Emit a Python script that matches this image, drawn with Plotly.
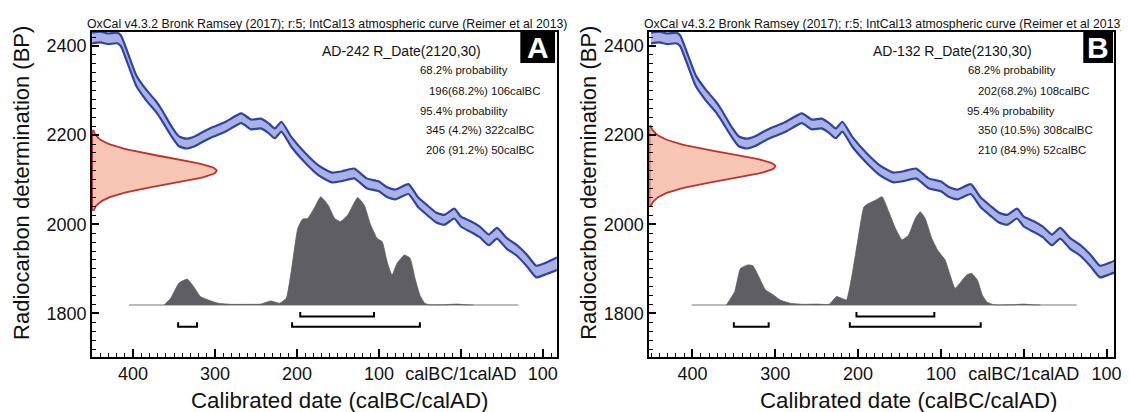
import numpy as np
import plotly.graph_objects as go

# page body has an 8px default margin, so the figure is made 8px smaller
OFF = 8
W, H = 1129 - OFF, 412 - OFF

# ---------------- data ----------------
# IntCal13 calibration curve (calendar year: negative = BC), radiocarbon age BP
curve_year = [-450, -440, -430, -420, -415, -405, -396, -384, -372, -365,
              -353, -344, -335, -325, -315, -304, -287, -268, -256, -244,
              -235, -227, -219, -207, -190, -173, -157, -145, -130, -115,
              -100, -90, -80, -64, -52, -40, -30, -20, -8, 0,
              12, 23, 34, 44, 56, 68, 80, 92, 104, 118]
curve_bp = [2418, 2420, 2416, 2418, 2412, 2365, 2322, 2290, 2264, 2245,
            2208, 2186, 2181, 2186, 2196, 2206, 2219, 2238, 2224, 2226,
            2216, 2204, 2219, 2185, 2149, 2120, 2105, 2108, 2114, 2092,
            2085, 2072, 2067, 2079, 2049, 2030, 2015, 2010, 2024, 2006,
            1995, 1983, 1965, 1980, 1957, 1942, 1920, 1894, 1901, 1912]
curve_err = [12, 12, 12, 12, 12, 12, 12, 12, 12, 12,
             11, 11, 11, 11, 11, 11, 11, 11, 11, 11,
             11, 11, 11, 11, 11, 11, 11, 11, 11, 11,
             11, 11, 11, 11, 11, 11, 11, 11, 11, 11,
             12, 12, 12, 12, 12, 12, 13, 13, 13, 14]

# Sample A
a_name = "AD-242 R_Date(2120,30)"
a_mean, a_sigma = 2120, 30
a_prob_year = [-362, -354, -344, -334, -326, -318, -308, -296, -280, -259,
               -244, -232, -221, -213, -207, -199, -193, -187, -179, -171,
               -162, -154, -147, -138, -126, -118, -110, -102, -96, -90,
               -84, -78, -69, -62, -56, -50, -44, -38, -20, -5, 5, 15]
a_prob = [0, 0.062, 0.202, 0.239, 0.169, 0.078, 0.045, 0.016, 0.006, 0.006,
          0.008, 0.037, 0.016, 0.062, 0.309, 0.708, 0.794, 0.798, 0.893, 1.0,
          0.922, 0.798, 0.770, 0.831, 0.992, 0.922, 0.737, 0.613, 0.584, 0.399,
          0.276, 0.383, 0.461, 0.432, 0.247, 0.091, 0.016, 0.002, 0.002, 0.008, 0.002, 0]
a_calc_range = [-405, 70]
a_range68 = [[-196, -106]]
a_range95 = [[-345, -322], [-206, -50]]
a_texts = ["68.2% probability", "196(68.2%) 106calBC", "95.4% probability",
           "345 (4.2%) 322calBC", "206 (91.2%) 50calBC"]

# Sample B
b_name = "AD-132 R_Date(2130,30)"
b_mean, b_sigma = 2130, 30
b_prob_year = [-359, -349, -342, -333, -327, -319, -312, -302, -294, -282,
               -266, -250, -235, -226, -220, -214, -208, -200, -193, -187,
               -179, -171, -163, -155, -147, -139, -131, -125, -119, -111,
               -104, -95, -89, -83, -77, -69, -63, -56, -50, -44, -36,
               -15, 0, 10, 20]
b_prob = [0, 0.123, 0.337, 0.370, 0.362, 0.247, 0.140, 0.091, 0.045, 0.016,
          0.006, 0.008, 0.006, 0.078, 0.062, 0.045, 0.247, 0.613, 0.905, 0.938,
          0.967, 1.0, 0.860, 0.708, 0.601, 0.646, 0.798, 0.860, 0.798, 0.613,
          0.506, 0.416, 0.276, 0.152, 0.202, 0.276, 0.292, 0.230, 0.091, 0.025, 0.002,
          0.002, 0.008, 0.002, 0]
b_calc_range = [-401, 64]
b_range68 = [[-202, -108]]
b_range95 = [[-350, -308], [-210, -52]]
b_texts = ["68.2% probability", "202(68.2%) 108calBC", "95.4% probability",
           "350 (10.5%) 308calBC", "210 (84.9%) 52calBC"]

x_tickvals = [-400, -300, -200, -100, 0, 100]
x_ticktext = ["400", "300", "200", "100", "calBC/1calAD", "100"]
y_tickvals = [1800, 2000, 2200, 2400]
title_text = "OxCal v4.3.2 Bronk Ramsey (2017); r:5; IntCal13 atmospheric curve (Reimer et al 2013)"

# ---------------- styling / layout constants ----------------
FONT = "Arial, Liberation Sans, sans-serif"
BAND_FILL = "rgba(160,168,226,0.9)"
BAND_LINE = "#2f44a0"
RD_FILL = "#f7c5b3"
RD_LINE = "#c4302b"
DIST_FILL = "#5f5f63"

x_ranges = [[-450, 117], [-452, 109]]
y_range = [1703, 2432]


def px(x):
    return (x - OFF) / W


def py(y):
    return 1 - (y - OFF) / H


dom_x = [[px(92.7), px(560.7)], [px(654), px(1122)]]
dom_y = [py(356.7), py(31.7)]

base_bp = 1819       # baseline of calibrated distributions
dist_height = 243    # peak height in BP units
rd_width = 152       # peak width of R_Date gaussian in years
br68_bp, br95_bp, br_tick = 1793, 1770, 10

fig = go.Figure()

samples = [
    (a_mean, a_sigma, a_prob_year, a_prob, a_calc_range, a_range68, a_range95),
    (b_mean, b_sigma, b_prob_year, b_prob, b_calc_range, b_range68, b_range95),
]

for i, (mean, sig, pyear, prob, crange, r68, r95) in enumerate(samples):
    xa = "x" if i == 0 else "x2"
    ya = "y" if i == 0 else "y2"
    # calibration curve band
    lo = [c - e for c, e in zip(curve_bp, curve_err)]
    hi = [c + e for c, e in zip(curve_bp, curve_err)]
    fig.add_trace(go.Scatter(x=curve_year, y=lo, mode="lines", xaxis=xa, yaxis=ya,
                             line=dict(color=BAND_LINE, width=2.2, shape="spline", smoothing=0.5),
                             hoverinfo="skip", showlegend=False))
    fig.add_trace(go.Scatter(x=curve_year, y=hi, mode="lines", xaxis=xa, yaxis=ya,
                             fill="tonexty", fillcolor=BAND_FILL,
                             line=dict(color=BAND_LINE, width=2.2, shape="spline", smoothing=0.5),
                             hoverinfo="skip", showlegend=False))
    # radiocarbon date gaussian on y axis
    xmin = x_ranges[i][0]
    ys = np.linspace(mean - 3 * sig, mean + 3 * sig, 81)
    xs = xmin + rd_width * np.exp(-0.5 * ((ys - mean) / sig) ** 2)
    fig.add_trace(go.Scatter(x=list(xs) + [xmin, xmin], y=list(ys) + [ys[-1], ys[0]],
                             mode="lines", xaxis=xa, yaxis=ya, fill="toself",
                             fillcolor=RD_FILL, line=dict(color=RD_LINE, width=1.8),
                             hoverinfo="skip", showlegend=False))
    # baseline
    fig.add_trace(go.Scatter(x=crange, y=[base_bp, base_bp], mode="lines", xaxis=xa, yaxis=ya,
                             line=dict(color="#777777", width=1), hoverinfo="skip", showlegend=False))
    # calibrated distribution
    dy = [base_bp + p * dist_height for p in prob]
    fig.add_trace(go.Scatter(x=[pyear[0]] + pyear + [pyear[-1]],
                             y=[base_bp] + dy + [base_bp],
                             mode="lines", xaxis=xa, yaxis=ya, fill="toself",
                             fillcolor=DIST_FILL,
                             line=dict(color=DIST_FILL, width=0.8, shape="spline", smoothing=0.4),
                             hoverinfo="skip", showlegend=False))
    # range brackets
    for rngs, yb in ((r68, br68_bp), (r95, br95_bp)):
        for s, e in rngs:
            fig.add_trace(go.Scatter(x=[s, s, e, e], y=[yb + br_tick, yb, yb, yb + br_tick],
                                     mode="lines", xaxis=xa, yaxis=ya,
                                     line=dict(color="black", width=2),
                                     hoverinfo="skip", showlegend=False))

axis_common = dict(showline=True, linewidth=2, linecolor="black", mirror=True,
                   showgrid=False, zeroline=False, ticks="inside", tickwidth=2,
                   tickcolor="black", ticklabeloverflow="allow",
                   tickfont=dict(family=FONT, size=18, color="#111"))

for i in range(2):
    sfx = "" if i == 0 else "2"
    fig.layout["xaxis" + sfx] = dict(
        axis_common, domain=dom_x[i], range=x_ranges[i], anchor="y" + sfx,
        tickmode="array", tickvals=x_tickvals, ticktext=x_ticktext, ticklen=8,
        minor=dict(tickmode="linear", tick0=0, dtick=10, ticklen=4, tickwidth=1,
                   ticks="inside", tickcolor="black"))
    fig.layout["yaxis" + sfx] = dict(
        axis_common, domain=dom_y, range=y_range, anchor="x" + sfx,
        tickmode="array", tickvals=y_tickvals, ticklen=7,
        minor=dict(tickmode="linear", tick0=1800, dtick=20, ticklen=4, tickwidth=1,
                   ticks="inside", tickcolor="black"))

annotations = []
shapes = []
names = [a_name, b_name]
texts = [a_texts, b_texts]
letters = ["A", "B"]
title_x = [86, 647]
name_x = [322, 877]
txt_x = [[421, 430, 421, 427, 427], [973, 983, 972, 983, 983]]
txt_y = [70, 91, 111, 130, 150]
ytitle_x = [22, 593]
xtitle_x = [342, 915]
box = [[524, 559], [1091, 1121]]

for i in range(2):
    annotations.append(dict(text=title_text, x=px(title_x[i]), y=py(24), xref="paper", yref="paper",
                            xanchor="left", yanchor="middle", showarrow=False,
                            font=dict(family=FONT, size=12.3, color="#111")))
    annotations.append(dict(text=names[i], x=px(name_x[i]), y=py(51), xref="paper", yref="paper",
                            xanchor="left", yanchor="middle", showarrow=False,
                            font=dict(family=FONT, size=14, color="#111")))
    for t, tx, ty in zip(texts[i], txt_x[i], txt_y):
        annotations.append(dict(text=t, x=px(tx), y=py(ty), xref="paper", yref="paper",
                                xanchor="left", yanchor="middle", showarrow=False,
                                font=dict(family=FONT, size=11.4, color="#111")))
    annotations.append(dict(text="Radiocarbon determination (BP)", x=px(ytitle_x[i]), y=py(183),
                            xref="paper", yref="paper", xanchor="center", yanchor="middle",
                            textangle=-90, showarrow=False,
                            font=dict(family=FONT, size=22, color="#111")))
    annotations.append(dict(text="Calibrated date (calBC/calAD)", x=px(xtitle_x[i]), y=py(400),
                            xref="paper", yref="paper", xanchor="center", yanchor="middle",
                            showarrow=False, font=dict(family=FONT, size=22.3, color="#111")))
    shapes.append(dict(type="rect", xref="paper", yref="paper",
                       x0=px(box[i][0]), x1=px(box[i][1]), y0=py(63), y1=py(32),
                       fillcolor="black", line=dict(width=0)))
    annotations.append(dict(text="<b>%s</b>" % letters[i], x=px((box[i][0] + box[i][1]) / 2), y=py(48),
                            xref="paper", yref="paper", xanchor="center", yanchor="middle",
                            showarrow=False, font=dict(family=FONT, size=30, color="white")))

fig.update_layout(width=W, height=H, autosize=False,
                  margin=dict(l=0, r=0, t=0, b=0),
                  paper_bgcolor="white", plot_bgcolor="white",
                  annotations=annotations, shapes=shapes, showlegend=False)

fig.write_html("out.html")
